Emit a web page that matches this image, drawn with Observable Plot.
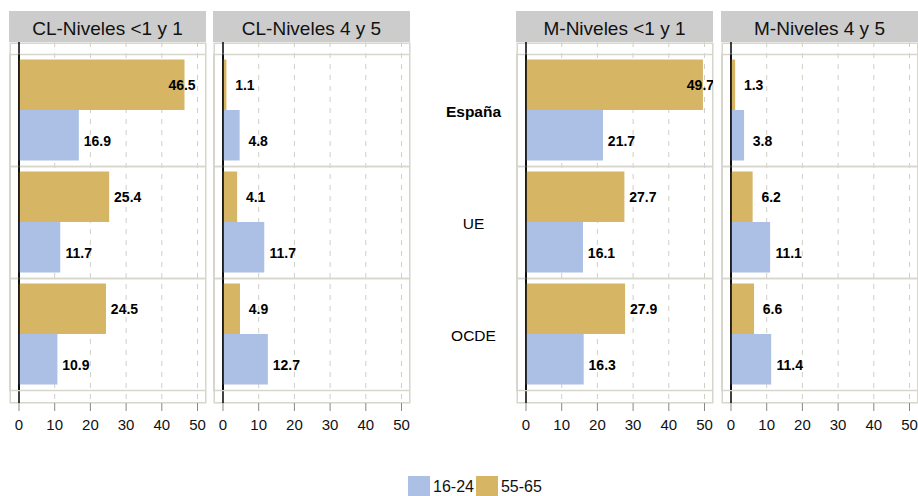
<!DOCTYPE html>
<html>
<head>
<meta charset="utf-8">
<script src="https://cdn.jsdelivr.net/npm/d3@7"></script>
<script src="https://cdn.jsdelivr.net/npm/@observablehq/plot@0.6"></script>
<style>
  body { margin: 0; background: #fff; font-family: "Liberation Sans", Arial, sans-serif; }
  #root { position: relative; width: 918px; height: 496px; overflow: hidden; background: #fff; }
  .strip { position: absolute; top: 11px; height: 31px; background: #cccccc; text-align: center;
           font-size: 19px; line-height: 36px; color: #111; white-space: nowrap; overflow: hidden; }
  .layer { position: absolute; top: 42px; }
  .lg-swatches { font-family: "Liberation Sans", Arial, sans-serif !important; font-size: 16px !important;
                 min-height: 0 !important; margin: 0 !important; color: #111; }
  .lg-swatch { margin-right: 2px !important; }
  .lg-swatch > svg { margin-right: 3px !important; }
</style>
</head>
<body>
<div id="root"></div>
<script>
// ---- data ----
const countries = ["España", "UE", "OCDE"];
const groups = ["16-24", "55-65"];
const panelTitles = ["CL-Niveles <1 y 1", "CL-Niveles 4 y 5", "M-Niveles <1 y 1", "M-Niveles 4 y 5"];
const xTicks = [0, 10, 20, 30, 40, 50];
// values in order of countries
const clLow1624  = [16.9, 11.7, 10.9];
const clLow5565  = [46.5, 25.4, 24.5];
const clHigh1624 = [4.8, 11.7, 12.7];
const clHigh5565 = [1.1, 4.1, 4.9];
const mLow1624   = [21.7, 16.1, 16.3];
const mLow5565   = [49.7, 27.7, 27.9];
const mHigh1624  = [3.8, 11.1, 11.4];
const mHigh5565  = [1.3, 6.2, 6.6];

// ---- styling / layout ----
const BLUE = "#abc0e4", GOLD = "#d6b665";
const FRAME = "#d6d6cc", GRID = "#cfcfc6";
const FONT = "'Liberation Sans', Arial, sans-serif";
const W = 197, H = 401;
const XDOM = [-2.66, 52.52];
const panelLeft = [9, 213, 516, 721];

const root = document.getElementById("root");

function place(node, left, top) {
  node.classList.add("layer");
  node.style.left = left + "px";
  if (top != null) node.style.top = top + "px";
  root.appendChild(node);
}

function panel(title, v1624, v5565, left) {
  const rows = countries.flatMap((c, i) => [
    {country: c, group: "55-65", value: v5565[i]},
    {country: c, group: "16-24", value: v1624[i]}
  ]);

  const strip = document.createElement("div");
  strip.className = "strip";
  strip.style.left = left + "px";
  strip.style.width = W + "px";
  strip.textContent = title;
  root.appendChild(strip);

  const bg = Plot.plot({
    width: W, height: H, marginTop: 0, marginBottom: 40, marginLeft: 0, marginRight: 0,
    style: {background: "transparent", fontFamily: FONT, fontSize: "15px", overflow: "visible"},
    x: {domain: XDOM, axis: null},
    marks: [
      Plot.ruleX(xTicks.filter(t => t > 0), {stroke: GRID, strokeDasharray: "5,6", strokeWidth: 1}),
      Plot.frame({stroke: FRAME, strokeWidth: 1.5, inset: 0.75}),
      Plot.ruleX([0], {stroke: "#000", strokeWidth: 1.5}),
      Plot.axisX(xTicks, {tickSize: 8, tickPadding: 8, stroke: "#888", fill: "#111", fontSize: 15, label: null, tickFormat: d => String(d)})
    ]
  });
  place(bg, left);

  const fg = Plot.plot({
    width: W, height: H, marginTop: 11, marginBottom: 53, marginLeft: 0, marginRight: 0,
    style: {background: "transparent", fontFamily: FONT},
    x: {domain: XDOM, axis: null},
    y: {domain: ["55-65", "16-24"], padding: 0, axis: null},
    fy: {domain: countries, padding: 0, axis: null},
    color: {domain: groups, range: [BLUE, GOLD]},
    marks: [
      Plot.frame({stroke: FRAME, strokeWidth: 1.5}),
      Plot.barX(rows.filter(d => d.group === "55-65"), {x: "value", y: "group", fy: "country", fill: "group", insetTop: 5.5}),
      Plot.barX(rows.filter(d => d.group === "16-24"), {x: "value", y: "group", fy: "country", fill: "group", insetBottom: 5.5}),
      Plot.ruleX([0], {stroke: "#000", strokeWidth: 1.5}),
      Plot.text(rows.filter(d => d.value <= 40), {x: "value", y: "group", fy: "country", text: d => d.value.toFixed(1),
        dx: 18, dy: 3, fontWeight: "bold", fontSize: 14, fill: "#000"}),
      Plot.text(rows.filter(d => d.value > 40), {x: "value", y: "group", fy: "country", text: d => d.value.toFixed(1),
        dx: -3, dy: 3, fontWeight: "bold", fontSize: 14, fill: "#000"})
    ]
  });
  place(fg, left);
}

// category labels between the two pairs of panels
const labels = Plot.plot({
  width: 128, height: H, marginTop: 11, marginBottom: 53, marginLeft: 0, marginRight: 0,
  style: {background: "transparent", fontFamily: FONT},
  y: {type: "band", domain: countries, padding: 0, axis: null},
  marks: [
    Plot.text(countries.filter(c => c === "España"), {y: d => d, text: d => d, frameAnchor: "middle", fontWeight: "bold", fontSize: 15.5, dy: 2, fill: "#000"}),
    Plot.text(countries.filter(c => c !== "España"), {y: d => d, text: d => d, frameAnchor: "middle", fontSize: 15.5, dy: 2, fill: "#000"})
  ]
});
place(labels, 409);

panel(panelTitles[0], clLow1624, clLow5565, panelLeft[0]);
panel(panelTitles[1], clHigh1624, clHigh5565, panelLeft[1]);
panel(panelTitles[2], mLow1624, mLow5565, panelLeft[2]);
panel(panelTitles[3], mHigh1624, mHigh5565, panelLeft[3]);

const legend = Plot.legend({
  color: {type: "ordinal", domain: groups, range: [BLUE, GOLD]},
  legend: "swatches", swatchSize: 22, className: "lg"
});
place(legend, 408, 476);
</script>
</body>
</html>
